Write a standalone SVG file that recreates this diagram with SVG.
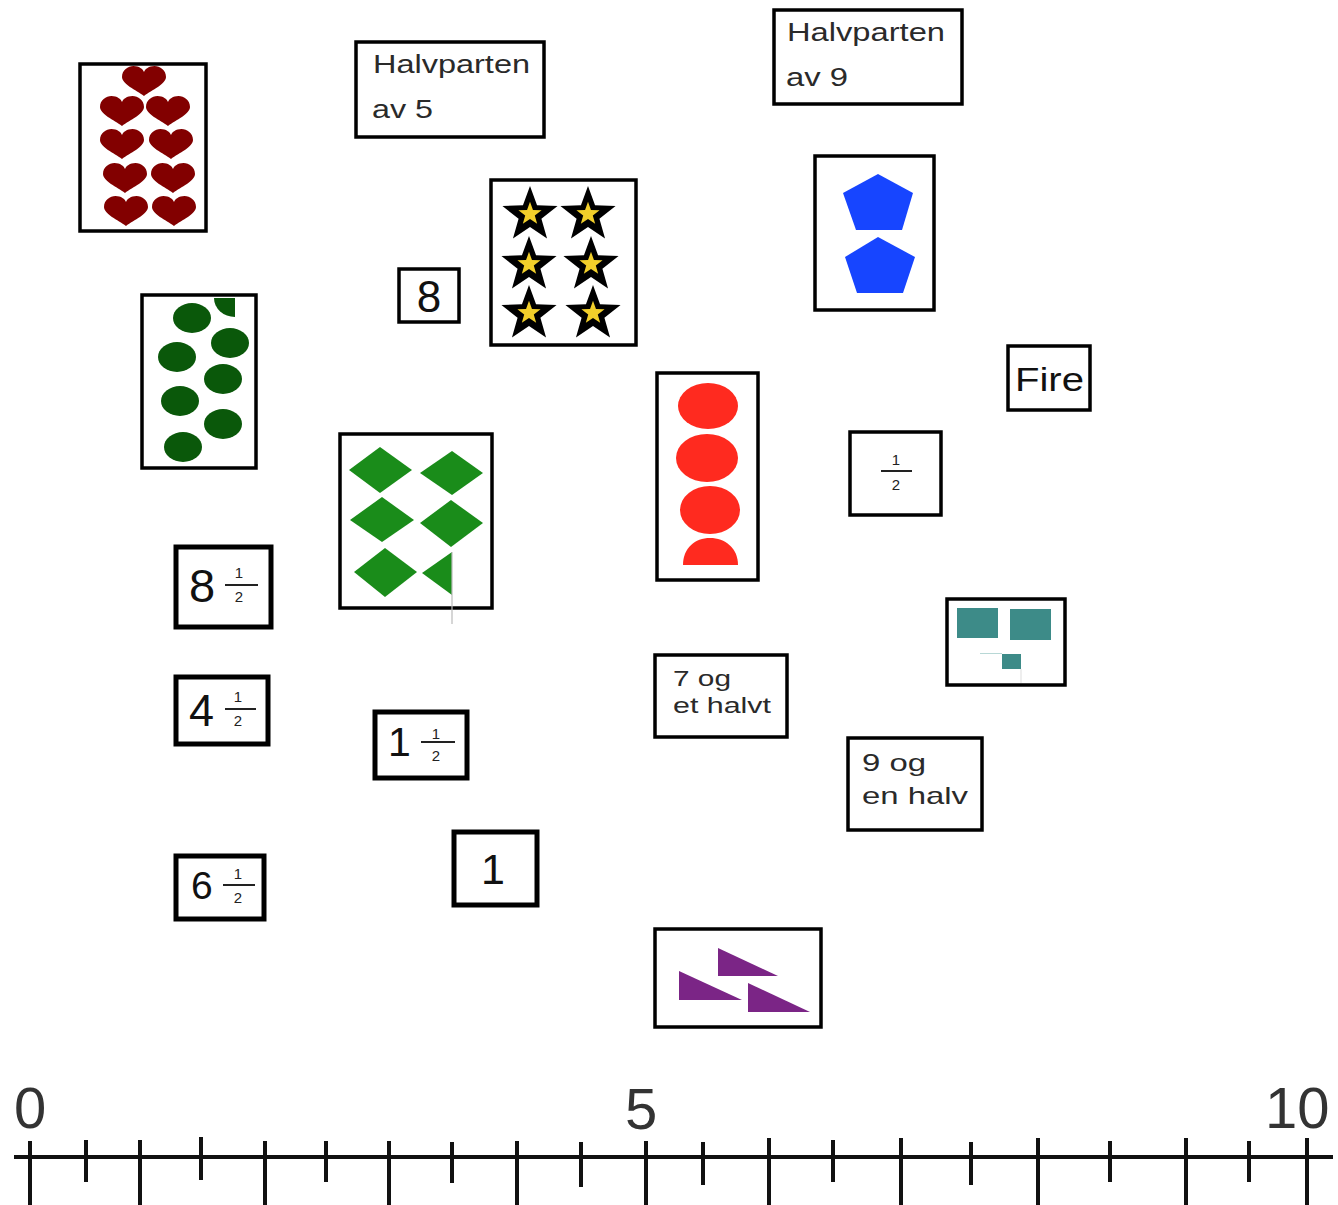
<svg xmlns="http://www.w3.org/2000/svg" width="1338" height="1205" viewBox="0 0 1338 1205">
<style>
.card{fill:#fff;stroke:#000;stroke-width:3.5}
.thick{fill:#fff;stroke:#000;stroke-width:5}
.lbl{font-family:"Liberation Sans",Arial,sans-serif;fill:#2a2a2a}
.num{font-family:"Liberation Sans",Arial,sans-serif;fill:#111}
.frac{font-family:"Liberation Sans",Arial,sans-serif;fill:#222;font-size:15px;text-anchor:middle}
.fl{stroke:#222;stroke-width:2}
.axis{stroke:#111;stroke-width:4}
.axl{font-family:"Liberation Sans",Arial,sans-serif;fill:#333;font-size:58px}
</style>
<defs>
<path id="heart" d="M0,14 C-8,8 -22,2 -22,-5 C-22,-12 -16,-16 -10.5,-16 C-5,-16 -1,-13 0,-10 C1,-13 5,-16 10.5,-16 C16,-16 22,-12 22,-5 C22,2 8,8 0,14 Z" fill="#820000"/>
<path id="star" d="M0,-29 L7.05,-9.71 L27.58,-8.96 L11.41,3.71 L17.05,23.46 L0,12 L-17.05,23.46 L-11.41,3.71 L-27.58,-8.96 L-7.05,-9.71 Z"/>
<g id="starfull">
<use href="#star" fill="#000"/>
<use href="#star" fill="#f2cf2a" transform="translate(0,-1) scale(0.42)"/>
</g>
</defs>
<rect width="1338" height="1205" fill="#fff"/>

<g id="hearts">
<rect class="card" x="80" y="64" width="126" height="167"/>
<use href="#heart" x="144" y="82"/>
<use href="#heart" x="122" y="112"/><use href="#heart" x="168" y="112"/>
<use href="#heart" x="122" y="145"/><use href="#heart" x="171" y="145"/>
<use href="#heart" x="125" y="179"/><use href="#heart" x="173" y="179"/>
<use href="#heart" x="126" y="212"/><use href="#heart" x="174" y="212"/>
</g>

<g id="halv5">
<rect class="card" x="356" y="42" width="188" height="95"/>
<text class="lbl" x="373" y="73" font-size="25" textLength="157" lengthAdjust="spacingAndGlyphs">Halvparten</text>
<text class="lbl" x="372" y="118" font-size="25" textLength="61" lengthAdjust="spacingAndGlyphs">av 5</text>
</g>

<g id="halv9">
<rect class="card" x="774" y="10" width="188" height="94"/>
<text class="lbl" x="787" y="41" font-size="25" textLength="158" lengthAdjust="spacingAndGlyphs">Halvparten</text>
<text class="lbl" x="786" y="86" font-size="25" textLength="62" lengthAdjust="spacingAndGlyphs">av 9</text>
</g>

<g id="greencircles" fill="#0a580a">
<rect class="card" x="142" y="295" width="114" height="173"/>
<path d="M214,298 L235,298 L235,317 A21,19 0 0 1 214,298 Z"/>
<ellipse cx="192" cy="318" rx="19" ry="15"/>
<ellipse cx="230" cy="343" rx="19" ry="15"/>
<ellipse cx="177" cy="357" rx="19" ry="15"/>
<ellipse cx="223" cy="379" rx="19" ry="15"/>
<ellipse cx="180" cy="401" rx="19" ry="15"/>
<ellipse cx="223" cy="424" rx="19" ry="15"/>
<ellipse cx="183" cy="447" rx="19" ry="15"/>
</g>

<g id="eight">
<rect class="card" x="399" y="269" width="60" height="53"/>
<text class="num" x="429" y="312" font-size="44" text-anchor="middle">8</text>
</g>

<g id="stars">
<rect class="card" x="491" y="180" width="145" height="165"/>
<use href="#starfull" x="530" y="215"/>
<use href="#starfull" x="588" y="215"/>
<use href="#starfull" x="529" y="265"/>
<use href="#starfull" x="591" y="265"/>
<use href="#starfull" x="529" y="314"/>
<use href="#starfull" x="593" y="314"/>
</g>

<g id="pentagons" fill="#1745ff">
<rect class="card" x="815" y="156" width="119" height="154"/>
<polygon points="878,174 913,193 902,230 856,230 843,193"/>
<polygon points="878,237 915,257 903,293 857,293 845,257"/>
</g>

<g id="fire">
<rect class="card" x="1008" y="346" width="82" height="64"/>
<text class="num" x="1015" y="391" font-size="34" textLength="69" lengthAdjust="spacingAndGlyphs">Fire</text>
</g>

<g id="diamonds" fill="#1a8c1a">
<rect class="card" x="340" y="434" width="152" height="174"/>
<polygon points="349,470 380,447 412,470 380,493"/>
<polygon points="420,473 452,451 483,473 452,495"/>
<polygon points="350,520 382,497 414,520 382,542"/>
<polygon points="420,523 451,500 483,523 451,547"/>
<polygon points="354,572 385,548 417,572 385,597"/>
<polygon points="422,573 452,552 452,595"/>
<line x1="452" y1="552" x2="452" y2="624" stroke="#bbb" stroke-width="1.2"/>
</g>

<g id="redcircles" fill="#ff2a1f">
<rect class="card" x="657" y="373" width="101" height="207"/>
<ellipse cx="708" cy="406" rx="30" ry="23"/>
<ellipse cx="707" cy="458" rx="31" ry="24"/>
<ellipse cx="710" cy="510" rx="30" ry="24"/>
<path d="M683,565 C683,548 695,538 710,538 C725,538 738,548 738,565 Z"/>
</g>

<g id="half">
<rect class="card" x="850" y="432" width="91" height="83"/>
<text class="frac" x="896" y="465">1</text>
<line class="fl" x1="881" y1="471" x2="912" y2="471"/>
<text class="frac" x="896" y="490">2</text>
</g>

<g id="teal" fill="#3d8b88">
<rect class="card" x="947" y="599" width="118" height="86"/>
<rect x="957" y="608" width="41" height="30"/>
<rect x="1010" y="609" width="41" height="31"/>
<rect x="1002" y="654" width="19" height="15"/>
<line x1="980" y1="653.5" x2="1002" y2="653.5" stroke="#b8d8d6" stroke-width="1"/>
<line x1="1021" y1="669" x2="1021" y2="683" stroke="#ddd" stroke-width="1"/>
</g>

<g id="eightandhalf">
<rect class="thick" x="176" y="547" width="95" height="80"/>
<text class="num" x="189" y="602" font-size="47">8</text>
<text class="frac" x="239" y="578">1</text>
<line class="fl" x1="225" y1="585" x2="258" y2="585"/>
<text class="frac" x="239" y="602">2</text>
</g>

<g id="fourandhalf">
<rect class="thick" x="176" y="677" width="92" height="67"/>
<text class="num" x="189" y="726" font-size="45">4</text>
<text class="frac" x="238" y="702">1</text>
<line class="fl" x1="225" y1="709" x2="256" y2="709"/>
<text class="frac" x="238" y="726">2</text>
</g>

<g id="sixandhalf">
<rect class="thick" x="176" y="856" width="88" height="63"/>
<text class="num" x="191" y="899" font-size="39">6</text>
<text class="frac" x="238" y="879">1</text>
<line class="fl" x1="223" y1="885" x2="255" y2="885"/>
<text class="frac" x="238" y="903">2</text>
</g>

<g id="oneandhalf">
<rect class="thick" x="375" y="712" width="92" height="66"/>
<text class="num" x="388" y="756" font-size="41">1</text>
<text class="frac" x="436" y="739">1</text>
<line class="fl" x1="421" y1="742" x2="455" y2="742"/>
<text class="frac" x="436" y="761">2</text>
</g>

<g id="one">
<rect class="thick" x="454" y="832" width="83" height="73"/>
<text class="num" x="493" y="884" font-size="43" text-anchor="middle">1</text>
</g>

<g id="sevenhalf">
<rect class="card" x="655" y="655" width="132" height="82"/>
<text class="lbl" x="673" y="686" font-size="22" textLength="58" lengthAdjust="spacingAndGlyphs">7 og</text>
<text class="lbl" x="673" y="713" font-size="22" textLength="98" lengthAdjust="spacingAndGlyphs">et halvt</text>
</g>

<g id="ninehalf">
<rect class="card" x="848" y="738" width="134" height="92"/>
<text class="lbl" x="862" y="771" font-size="24" textLength="64" lengthAdjust="spacingAndGlyphs">9 og</text>
<text class="lbl" x="862" y="804" font-size="24" textLength="106" lengthAdjust="spacingAndGlyphs">en halv</text>
</g>

<g id="triangles" fill="#7b2586">
<rect class="card" x="655" y="929" width="166" height="98"/>
<polygon points="718,948 778,976 718,976"/>
<polygon points="679,971 742,1000 679,1000"/>
<polygon points="748,983 810,1012 748,1012"/>
</g>

<g id="numberline">
<line class="axis" x1="14" y1="1157" x2="1333" y2="1157"/>
<g class="axis">
<line x1="30" y1="1141" x2="30" y2="1205"/>
<line x1="140" y1="1140" x2="140" y2="1205"/>
<line x1="265" y1="1141" x2="265" y2="1205"/>
<line x1="389" y1="1141" x2="389" y2="1205"/>
<line x1="517" y1="1141" x2="517" y2="1205"/>
<line x1="646" y1="1141" x2="646" y2="1205"/>
<line x1="769" y1="1138" x2="769" y2="1205"/>
<line x1="901" y1="1138" x2="901" y2="1205"/>
<line x1="1038" y1="1138" x2="1038" y2="1205"/>
<line x1="1186" y1="1138" x2="1186" y2="1205"/>
<line x1="1307" y1="1138" x2="1307" y2="1205"/>
<line x1="86" y1="1140" x2="86" y2="1182"/>
<line x1="201" y1="1137" x2="201" y2="1180"/>
<line x1="326" y1="1141" x2="326" y2="1182"/>
<line x1="452" y1="1142" x2="452" y2="1183"/>
<line x1="581" y1="1142" x2="581" y2="1187"/>
<line x1="703" y1="1142" x2="703" y2="1185"/>
<line x1="833" y1="1140" x2="833" y2="1182"/>
<line x1="971" y1="1142" x2="971" y2="1185"/>
<line x1="1110" y1="1141" x2="1110" y2="1182"/>
<line x1="1249" y1="1141" x2="1249" y2="1182"/>
</g>
<text class="axl" x="14" y="1128">0</text>
<text class="axl" x="625" y="1129">5</text>
<text class="axl" x="1265" y="1128">10</text>
</g>
</svg>
